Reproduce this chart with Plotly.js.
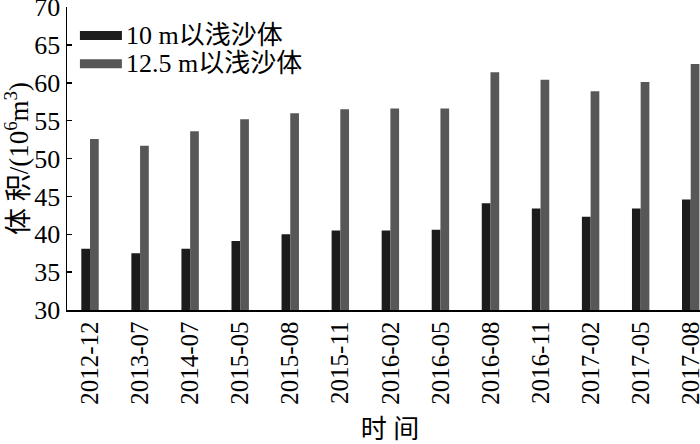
<!DOCTYPE html>
<html>
<head>
<meta charset="utf-8">
<script src="https://cdn.plot.ly/plotly-3.0.1.min.js"></script>
<style>
html, body { margin: 0; padding: 0; overflow: hidden; background: #fff; }
#chart { width: 713px; height: 444px; }
</style>
</head>
<body>
<div id="chart"></div>
<script>
const categories = ["2012-12", "2013-07", "2014-07", "2015-05", "2015-08", "2015-11", "2016-02", "2016-05", "2016-08", "2016-11", "2017-02", "2017-05", "2017-08"];
const shallow10 = [38.1, 37.5, 38.1, 39.1, 40.0, 40.5, 40.5, 40.6, 44.1, 43.4, 42.3, 43.4, 44.6];
const shallow125 = [52.6, 51.7, 53.6, 55.2, 56.0, 56.5, 56.6, 56.6, 61.4, 60.4, 58.9, 60.1, 62.5];
const seriesNames = ["10 m以浅沙体", "12.5 m以浅沙体"];
const seriesColors = ["#1c1c1c", "#575757"];

const FONT = 'Liberation Serif, Times New Roman, Noto Sans CJK SC, serif';

const traces = [
  { type: 'bar', x: categories, y: shallow10, name: seriesNames[0], marker: { color: seriesColors[0] }, showlegend: false },
  { type: 'bar', x: categories, y: shallow125, name: seriesNames[1], marker: { color: seriesColors[1] }, showlegend: false }
];

const legendY = [0.906, 0.813];
const shapes = legendY.map((yy, i) => ({
  type: 'line', xref: 'paper', yref: 'paper',
  x0: 0.02, x1: 0.085, y0: yy, y1: yy,
  line: { color: seriesColors[i], width: 9 }
}));
const annotations = legendY.map((yy, i) => ({
  xref: 'paper', yref: 'paper', x: 0.089, y: yy, xanchor: 'left', yanchor: 'middle',
  text: seriesNames[i], showarrow: false,
  font: { family: FONT, size: 26, color: '#000' }
}));

const layout = {
  width: 713, height: 444,
  margin: { l: 67, r: 0, t: 7, b: 134 },
  paper_bgcolor: '#fff', plot_bgcolor: '#fff',
  font: { family: FONT, size: 26, color: '#000' },
  barmode: 'group', bargap: 0.652, bargroupgap: 0,
  showlegend: false,
  xaxis: {
    type: 'category',
    range: [-0.46, 12.445],
    showline: true, linecolor: '#000', linewidth: 1.5,
    ticks: '', tickangle: -90,
    ticklabeloverflow: 'allow',
    tickfont: { family: FONT, size: 25, color: '#000' },
    showgrid: false, zeroline: false,
    title: { text: '时 间', font: { family: FONT, size: 26, color: '#000' }, standoff: 20 }
  },
  yaxis: {
    range: [30, 70.02], dtick: 5, tick0: 30,
    showline: true, linecolor: '#000', linewidth: 1.5,
    ticks: 'inside', ticklen: 5, tickwidth: 1.5, tickcolor: '#000',
    ticklabeloverflow: 'allow',
    tickfont: { family: FONT, size: 26, color: '#000' },
    showgrid: false, zeroline: false,
    title: { text: '体 积/(10<sup>6</sup>m<sup>3</sup>)', font: { family: FONT, size: 27, color: '#000' }, standoff: 6 }
  },
  shapes: shapes,
  annotations: annotations
};

Plotly.newPlot('chart', traces, layout, { displayModeBar: false, staticPlot: true });
</script>
</body>
</html>
